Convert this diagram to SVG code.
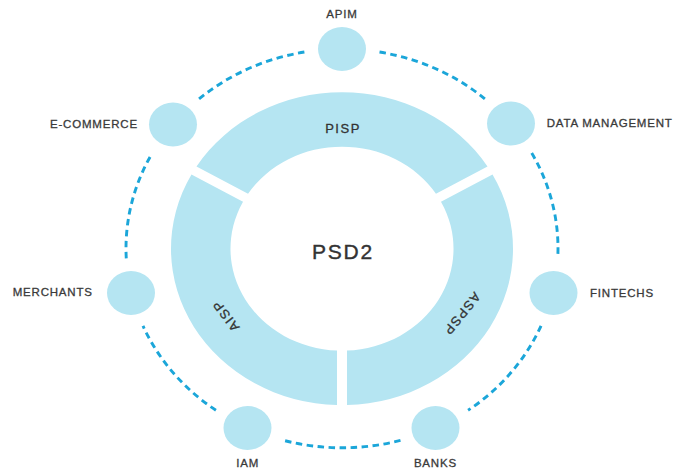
<svg xmlns="http://www.w3.org/2000/svg" width="675" height="468" viewBox="0 0 675 468">
<style>
.seg{fill:#b5e5f2}
.node{fill:#b5e5f2}
.lbl{font-family:"Liberation Sans",Arial,sans-serif;font-size:11.5px;letter-spacing:0.8px;fill:#3a3a3a;stroke:#3a3a3a;stroke-width:0.3px}
.seglbl{font-family:"Liberation Sans",Arial,sans-serif;font-size:13px;letter-spacing:1.5px;fill:#333;stroke:#333;stroke-width:0.3px}
.ctr{font-family:"Liberation Sans",Arial,sans-serif;font-size:21px;letter-spacing:1.8px;fill:#333;stroke:#333;stroke-width:0.4px}
.dash{fill:none;stroke:#1ba6d9;stroke-width:2.9;stroke-dasharray:6.5 4.5}
</style>
<rect width="675" height="468" fill="#ffffff"/>
<g id="connectors">
<path class="dash" d="M379.51 52.03 A216 199.4 0 0 1 484.94 98.89"/>
<path class="dash" d="M531.71 153.04 A216 199.4 0 0 1 557.73 258.35"/>
<path class="dash" d="M541.03 325.86 A216 199.4 0 0 1 468.08 410.31"/>
<path class="dash" d="M400.49 440.35 A216 199.4 0 0 1 283.51 440.35"/>
<path class="dash" d="M215.92 410.31 A216 199.4 0 0 1 142.97 325.86"/>
<path class="dash" d="M126.27 258.35 A216 199.4 0 0 1 152.29 153.04"/>
<path class="dash" d="M199.06 98.89 A216 199.4 0 0 1 304.49 52.03"/>
</g>
<g id="pisp">
<path class="seg" transform="translate(342 248.7) scale(1 0.915)" d="M-145.52 -89.80 A171 171 0 0 1 145.52 -89.80 L93.96 -60.03 A111.5 111.5 0 0 0 -93.96 -60.03 Z"/>
<text class="seglbl" x="343" y="132.7" text-anchor="middle">PISP</text>
</g>
<g id="aspsp">
<path class="seg" transform="translate(342 248.7) scale(1 0.915)" d="M150.53 -81.13 A171 171 0 0 1 5 170.93 L5 111.39 A111.5 111.5 0 0 0 98.97 -51.37 Z"/>
<text class="seglbl" transform="translate(462 314) rotate(128.7)" x="0" y="4.6" text-anchor="middle">ASPSP</text>
</g>
<g id="aisp">
<path class="seg" transform="translate(342 248.7) scale(1 0.915)" d="M-5 170.93 A171 171 0 0 1 -150.53 -81.13 L-98.97 -51.37 A111.5 111.5 0 0 0 -5 111.39 Z"/>
<text class="seglbl" transform="translate(225.7 315.7) rotate(-127)" x="0" y="4.6" text-anchor="middle">AISP</text>
</g>
<g id="psd2">
<text class="ctr" x="343" y="259.3" text-anchor="middle">PSD2</text>
</g>
<g id="apim">
<ellipse class="node" cx="342" cy="49" rx="24" ry="22"/>
<text class="lbl" x="342" y="18.3" text-anchor="middle">APIM</text>
</g>
<g id="data-management">
<ellipse class="node" cx="511" cy="123.5" rx="24" ry="22"/>
<text class="lbl" x="546.7" y="126.7">DATA MANAGEMENT</text>
</g>
<g id="fintechs">
<ellipse class="node" cx="553.5" cy="293" rx="24" ry="22"/>
<text class="lbl" x="590" y="296.7">FINTECHS</text>
</g>
<g id="banks">
<ellipse class="node" cx="435.5" cy="428" rx="24" ry="22"/>
<text class="lbl" x="435.4" y="467.3" text-anchor="middle">BANKS</text>
</g>
<g id="iam">
<ellipse class="node" cx="247.5" cy="428" rx="24" ry="22"/>
<text class="lbl" x="247.7" y="467.3" text-anchor="middle">IAM</text>
</g>
<g id="merchants">
<ellipse class="node" cx="131" cy="293" rx="24" ry="22"/>
<text class="lbl" x="12.7" y="296">MERCHANTS</text>
</g>
<g id="e-commerce">
<ellipse class="node" cx="173" cy="124.5" rx="24" ry="22"/>
<text class="lbl" x="50" y="128.3">E-COMMERCE</text>
</g>
</svg>
